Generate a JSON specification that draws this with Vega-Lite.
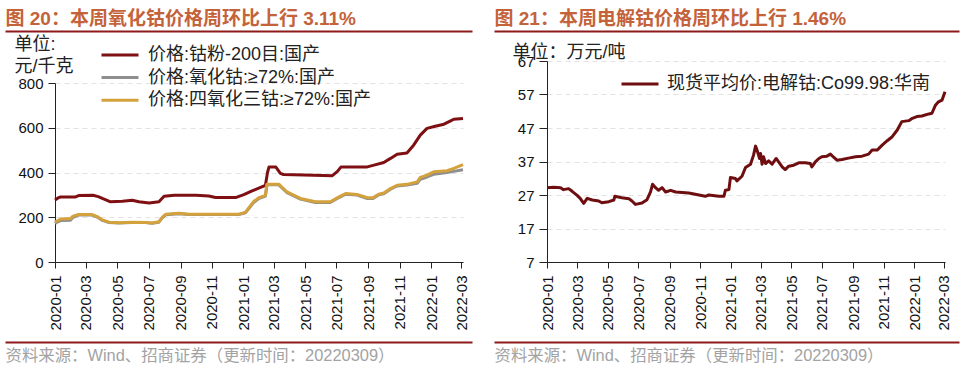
{
  "$schema": "https://vega.github.io/schema/vega-lite/v6.json",
  "background": "white",
  "padding": {"left": 5, "top": 9, "right": 0, "bottom": 0},
  "autosize": {"type": "pad"},
  "spacing": -28,
  "config": {
    "view": {"stroke": null},
    "font": "Liberation Sans, Noto Sans CJK SC",
    "axis": {
      "labelFont": "Liberation Sans, Noto Sans CJK SC",
      "titleFont": "Liberation Sans, Noto Sans CJK SC",
      "labelColor": "#111",
      "domainColor": "#222",
      "tickColor": "#222",
      "labelFontSize": 15
    },
    "legend": {"labelFont": "Liberation Sans, Noto Sans CJK SC"}
  },
  "resolve": {
    "scale": {"x": "independent", "y": "independent", "color": "independent"},
    "legend": {"color": "independent"}
  },
  "datasets": {
    "oxide": [
      {"date": "2020-01-01", "series": "价格:钴粉-200目:国产", "value": 277},
      {"date": "2020-01-06", "series": "价格:钴粉-200目:国产", "value": 285},
      {"date": "2020-01-12", "series": "价格:钴粉-200目:国产", "value": 291},
      {"date": "2020-02-10", "series": "价格:钴粉-200目:国产", "value": 291},
      {"date": "2020-02-16", "series": "价格:钴粉-200目:国产", "value": 297},
      {"date": "2020-03-15", "series": "价格:钴粉-200目:国产", "value": 298},
      {"date": "2020-03-25", "series": "价格:钴粉-200目:国产", "value": 292},
      {"date": "2020-04-02", "series": "价格:钴粉-200目:国产", "value": 284},
      {"date": "2020-04-18", "series": "价格:钴粉-200目:国产", "value": 269},
      {"date": "2020-05-11", "series": "价格:钴粉-200目:国产", "value": 272},
      {"date": "2020-05-30", "series": "价格:钴粉-200目:国产", "value": 276},
      {"date": "2020-06-12", "series": "价格:钴粉-200目:国产", "value": 269},
      {"date": "2020-07-02", "series": "价格:钴粉-200目:国产", "value": 264},
      {"date": "2020-07-21", "series": "价格:钴粉-200目:国产", "value": 269},
      {"date": "2020-07-31", "series": "价格:钴粉-200目:国产", "value": 294},
      {"date": "2020-08-20", "series": "价格:钴粉-200目:国产", "value": 298},
      {"date": "2020-10-01", "series": "价格:钴粉-200目:国产", "value": 298},
      {"date": "2020-10-26", "series": "价格:钴粉-200目:国产", "value": 295},
      {"date": "2020-11-08", "series": "价格:钴粉-200目:国产", "value": 288},
      {"date": "2020-12-17", "series": "价格:钴粉-200目:国产", "value": 288},
      {"date": "2021-01-02", "series": "价格:钴粉-200目:国产", "value": 301},
      {"date": "2021-01-18", "series": "价格:钴粉-200目:国产", "value": 318},
      {"date": "2021-01-31", "series": "价格:钴粉-200目:国产", "value": 330},
      {"date": "2021-02-13", "series": "价格:钴粉-200目:国产", "value": 343},
      {"date": "2021-02-17", "series": "价格:钴粉-200目:国产", "value": 400},
      {"date": "2021-02-20", "series": "价格:钴粉-200目:国产", "value": 425},
      {"date": "2021-03-05", "series": "价格:钴粉-200目:国产", "value": 425},
      {"date": "2021-03-14", "series": "价格:钴粉-200目:国产", "value": 396},
      {"date": "2021-03-20", "series": "价格:钴粉-200目:国产", "value": 391},
      {"date": "2021-05-18", "series": "价格:钴粉-200目:国产", "value": 388},
      {"date": "2021-06-23", "series": "价格:钴粉-200目:国产", "value": 386},
      {"date": "2021-07-03", "series": "价格:钴粉-200目:国产", "value": 405},
      {"date": "2021-07-10", "series": "价格:钴粉-200目:国产", "value": 425},
      {"date": "2021-08-30", "series": "价格:钴粉-200目:国产", "value": 425},
      {"date": "2021-09-12", "series": "价格:钴粉-200目:国产", "value": 433},
      {"date": "2021-10-01", "series": "价格:钴粉-200目:国产", "value": 445},
      {"date": "2021-10-14", "series": "价格:钴粉-200目:国产", "value": 463},
      {"date": "2021-10-27", "series": "价格:钴粉-200目:国产", "value": 482},
      {"date": "2021-11-15", "series": "价格:钴粉-200目:国产", "value": 487},
      {"date": "2021-11-28", "series": "价格:钴粉-200目:国产", "value": 522},
      {"date": "2021-12-11", "series": "价格:钴粉-200目:国产", "value": 567},
      {"date": "2021-12-24", "series": "价格:钴粉-200目:国产", "value": 597},
      {"date": "2022-01-09", "series": "价格:钴粉-200目:国产", "value": 607},
      {"date": "2022-01-26", "series": "价格:钴粉-200目:国产", "value": 616},
      {"date": "2022-02-08", "series": "价格:钴粉-200目:国产", "value": 631},
      {"date": "2022-02-14", "series": "价格:钴粉-200目:国产", "value": 638},
      {"date": "2022-03-04", "series": "价格:钴粉-200目:国产", "value": 641},

      {"date": "2020-01-01", "series": "价格:氧化钴:≥72%:国产", "value": 172},
      {"date": "2020-01-05", "series": "价格:氧化钴:≥72%:国产", "value": 178},
      {"date": "2020-01-12", "series": "价格:氧化钴:≥72%:国产", "value": 185},
      {"date": "2020-01-31", "series": "价格:氧化钴:≥72%:国产", "value": 187},
      {"date": "2020-02-05", "series": "价格:氧化钴:≥72%:国产", "value": 200},
      {"date": "2020-02-16", "series": "价格:氧化钴:≥72%:国产", "value": 210},
      {"date": "2020-03-13", "series": "价格:氧化钴:≥72%:国产", "value": 210},
      {"date": "2020-03-23", "series": "价格:氧化钴:≥72%:国产", "value": 201},
      {"date": "2020-04-02", "series": "价格:氧化钴:≥72%:国产", "value": 186},
      {"date": "2020-04-15", "series": "价格:氧化钴:≥72%:国产", "value": 176},
      {"date": "2020-05-04", "series": "价格:氧化钴:≥72%:国产", "value": 174},
      {"date": "2020-05-30", "series": "价格:氧化钴:≥72%:国产", "value": 177},
      {"date": "2020-06-25", "series": "价格:氧化钴:≥72%:国产", "value": 176},
      {"date": "2020-07-08", "series": "价格:氧化钴:≥72%:国产", "value": 173},
      {"date": "2020-07-21", "series": "价格:氧化钴:≥72%:国产", "value": 178},
      {"date": "2020-07-27", "series": "价格:氧化钴:≥72%:国产", "value": 196},
      {"date": "2020-08-03", "series": "价格:氧化钴:≥72%:国产", "value": 211},
      {"date": "2020-08-29", "series": "价格:氧化钴:≥72%:国产", "value": 216},
      {"date": "2020-09-17", "series": "价格:氧化钴:≥72%:国产", "value": 212},
      {"date": "2020-12-23", "series": "价格:氧化钴:≥72%:国产", "value": 212},
      {"date": "2021-01-05", "series": "价格:氧化钴:≥72%:国产", "value": 220},
      {"date": "2021-01-21", "series": "价格:氧化钴:≥72%:国产", "value": 266},
      {"date": "2021-02-01", "series": "价格:氧化钴:≥72%:国产", "value": 285},
      {"date": "2021-02-13", "series": "价格:氧化钴:≥72%:国产", "value": 295},
      {"date": "2021-02-16", "series": "价格:氧化钴:≥72%:国产", "value": 345},
      {"date": "2021-03-11", "series": "价格:氧化钴:≥72%:国产", "value": 345},
      {"date": "2021-03-27", "series": "价格:氧化钴:≥72%:国产", "value": 310},
      {"date": "2021-04-22", "series": "价格:氧化钴:≥72%:国产", "value": 281},
      {"date": "2021-05-21", "series": "价格:氧化钴:≥72%:国产", "value": 266},
      {"date": "2021-06-19", "series": "价格:氧化钴:≥72%:国产", "value": 266},
      {"date": "2021-07-06", "series": "价格:氧化钴:≥72%:国产", "value": 288},
      {"date": "2021-07-19", "series": "价格:氧化钴:≥72%:国产", "value": 303},
      {"date": "2021-08-10", "series": "价格:氧化钴:≥72%:国产", "value": 299},
      {"date": "2021-08-30", "series": "价格:氧化钴:≥72%:国产", "value": 284},
      {"date": "2021-09-10", "series": "价格:氧化钴:≥72%:国产", "value": 284},
      {"date": "2021-09-21", "series": "价格:氧化钴:≥72%:国产", "value": 300},
      {"date": "2021-10-01", "series": "价格:氧化钴:≥72%:国产", "value": 305},
      {"date": "2021-10-14", "series": "价格:氧化钴:≥72%:国产", "value": 325},
      {"date": "2021-10-27", "series": "价格:氧化钴:≥72%:国产", "value": 340},
      {"date": "2021-11-15", "series": "价格:氧化钴:≥72%:国产", "value": 344},
      {"date": "2021-12-05", "series": "价格:氧化钴:≥72%:国产", "value": 352},
      {"date": "2021-12-11", "series": "价格:氧化钴:≥72%:国产", "value": 370},
      {"date": "2021-12-24", "series": "价格:氧化钴:≥72%:国产", "value": 380},
      {"date": "2022-01-06", "series": "价格:氧化钴:≥72%:国产", "value": 392},
      {"date": "2022-02-01", "series": "价格:氧化钴:≥72%:国产", "value": 400},
      {"date": "2022-02-14", "series": "价格:氧化钴:≥72%:国产", "value": 405},
      {"date": "2022-03-04", "series": "价格:氧化钴:≥72%:国产", "value": 412},

      {"date": "2020-01-01", "series": "价格:四氧化三钴:≥72%:国产", "value": 178},
      {"date": "2020-01-05", "series": "价格:四氧化三钴:≥72%:国产", "value": 183},
      {"date": "2020-01-12", "series": "价格:四氧化三钴:≥72%:国产", "value": 192},
      {"date": "2020-01-31", "series": "价格:四氧化三钴:≥72%:国产", "value": 194},
      {"date": "2020-02-05", "series": "价格:四氧化三钴:≥72%:国产", "value": 205},
      {"date": "2020-02-16", "series": "价格:四氧化三钴:≥72%:国产", "value": 212},
      {"date": "2020-03-13", "series": "价格:四氧化三钴:≥72%:国产", "value": 212},
      {"date": "2020-03-23", "series": "价格:四氧化三钴:≥72%:国产", "value": 203},
      {"date": "2020-04-02", "series": "价格:四氧化三钴:≥72%:国产", "value": 188},
      {"date": "2020-04-15", "series": "价格:四氧化三钴:≥72%:国产", "value": 178},
      {"date": "2020-05-04", "series": "价格:四氧化三钴:≥72%:国产", "value": 175},
      {"date": "2020-05-30", "series": "价格:四氧化三钴:≥72%:国产", "value": 178},
      {"date": "2020-06-25", "series": "价格:四氧化三钴:≥72%:国产", "value": 177},
      {"date": "2020-07-08", "series": "价格:四氧化三钴:≥72%:国产", "value": 174},
      {"date": "2020-07-21", "series": "价格:四氧化三钴:≥72%:国产", "value": 180},
      {"date": "2020-07-27", "series": "价格:四氧化三钴:≥72%:国产", "value": 198},
      {"date": "2020-08-03", "series": "价格:四氧化三钴:≥72%:国产", "value": 213},
      {"date": "2020-08-29", "series": "价格:四氧化三钴:≥72%:国产", "value": 218},
      {"date": "2020-09-17", "series": "价格:四氧化三钴:≥72%:国产", "value": 213},
      {"date": "2020-12-23", "series": "价格:四氧化三钴:≥72%:国产", "value": 213},
      {"date": "2021-01-05", "series": "价格:四氧化三钴:≥72%:国产", "value": 222},
      {"date": "2021-01-21", "series": "价格:四氧化三钴:≥72%:国产", "value": 270},
      {"date": "2021-02-01", "series": "价格:四氧化三钴:≥72%:国产", "value": 288},
      {"date": "2021-02-13", "series": "价格:四氧化三钴:≥72%:国产", "value": 298},
      {"date": "2021-02-16", "series": "价格:四氧化三钴:≥72%:国产", "value": 348},
      {"date": "2021-03-11", "series": "价格:四氧化三钴:≥72%:国产", "value": 348},
      {"date": "2021-03-27", "series": "价格:四氧化三钴:≥72%:国产", "value": 313},
      {"date": "2021-04-22", "series": "价格:四氧化三钴:≥72%:国产", "value": 284},
      {"date": "2021-05-21", "series": "价格:四氧化三钴:≥72%:国产", "value": 269},
      {"date": "2021-06-19", "series": "价格:四氧化三钴:≥72%:国产", "value": 269},
      {"date": "2021-07-06", "series": "价格:四氧化三钴:≥72%:国产", "value": 291},
      {"date": "2021-07-19", "series": "价格:四氧化三钴:≥72%:国产", "value": 306},
      {"date": "2021-08-10", "series": "价格:四氧化三钴:≥72%:国产", "value": 302},
      {"date": "2021-08-30", "series": "价格:四氧化三钴:≥72%:国产", "value": 287},
      {"date": "2021-09-10", "series": "价格:四氧化三钴:≥72%:国产", "value": 287},
      {"date": "2021-09-21", "series": "价格:四氧化三钴:≥72%:国产", "value": 303},
      {"date": "2021-10-01", "series": "价格:四氧化三钴:≥72%:国产", "value": 308},
      {"date": "2021-10-14", "series": "价格:四氧化三钴:≥72%:国产", "value": 328},
      {"date": "2021-10-27", "series": "价格:四氧化三钴:≥72%:国产", "value": 343},
      {"date": "2021-11-15", "series": "价格:四氧化三钴:≥72%:国产", "value": 347},
      {"date": "2021-12-05", "series": "价格:四氧化三钴:≥72%:国产", "value": 358},
      {"date": "2021-12-11", "series": "价格:四氧化三钴:≥72%:国产", "value": 378},
      {"date": "2021-12-24", "series": "价格:四氧化三钴:≥72%:国产", "value": 388},
      {"date": "2022-01-06", "series": "价格:四氧化三钴:≥72%:国产", "value": 403},
      {"date": "2022-02-01", "series": "价格:四氧化三钴:≥72%:国产", "value": 408},
      {"date": "2022-02-14", "series": "价格:四氧化三钴:≥72%:国产", "value": 418},
      {"date": "2022-03-04", "series": "价格:四氧化三钴:≥72%:国产", "value": 435}
    ],
    "elec": [
      {"date": "2020-01-01", "series": "现货平均价:电解钴:Co99.98:华南", "value": 29.2},
      {"date": "2020-01-14", "series": "现货平均价:电解钴:Co99.98:华南", "value": 29.3},
      {"date": "2020-01-28", "series": "现货平均价:电解钴:Co99.98:华南", "value": 29.2},
      {"date": "2020-02-03", "series": "现货平均价:电解钴:Co99.98:华南", "value": 28.6},
      {"date": "2020-02-13", "series": "现货平均价:电解钴:Co99.98:华南", "value": 28.9},
      {"date": "2020-02-20", "series": "现货平均价:电解钴:Co99.98:华南", "value": 28.1},
      {"date": "2020-03-01", "series": "现货平均价:电解钴:Co99.98:华南", "value": 26.9},
      {"date": "2020-03-07", "series": "现货平均价:电解钴:Co99.98:华南", "value": 26.0},
      {"date": "2020-03-14", "series": "现货平均价:电解钴:Co99.98:华南", "value": 24.5},
      {"date": "2020-03-21", "series": "现货平均价:电解钴:Co99.98:华南", "value": 26.0},
      {"date": "2020-03-31", "series": "现货平均价:电解钴:Co99.98:华南", "value": 25.5},
      {"date": "2020-04-13", "series": "现货平均价:电解钴:Co99.98:华南", "value": 25.2},
      {"date": "2020-04-19", "series": "现货平均价:电解钴:Co99.98:华南", "value": 24.7},
      {"date": "2020-05-03", "series": "现货平均价:电解钴:Co99.98:华南", "value": 25.0},
      {"date": "2020-05-13", "series": "现货平均价:电解钴:Co99.98:华南", "value": 25.5},
      {"date": "2020-05-15", "series": "现货平均价:电解钴:Co99.98:华南", "value": 26.6},
      {"date": "2020-05-29", "series": "现货平均价:电解钴:Co99.98:华南", "value": 26.2},
      {"date": "2020-06-12", "series": "现货平均价:电解钴:Co99.98:华南", "value": 25.9},
      {"date": "2020-06-18", "series": "现货平均价:电解钴:Co99.98:华南", "value": 25.2},
      {"date": "2020-06-25", "series": "现货平均价:电解钴:Co99.98:华南", "value": 24.2},
      {"date": "2020-07-08", "series": "现货平均价:电解钴:Co99.98:华南", "value": 24.6},
      {"date": "2020-07-18", "series": "现货平均价:电解钴:Co99.98:华南", "value": 25.6},
      {"date": "2020-07-25", "series": "现货平均价:电解钴:Co99.98:华南", "value": 27.9},
      {"date": "2020-07-29", "series": "现货平均价:电解钴:Co99.98:华南", "value": 30.2},
      {"date": "2020-08-04", "series": "现货平均价:电解钴:Co99.98:华南", "value": 29.2},
      {"date": "2020-08-10", "series": "现货平均价:电解钴:Co99.98:华南", "value": 28.4},
      {"date": "2020-08-17", "series": "现货平均价:电解钴:Co99.98:华南", "value": 29.2},
      {"date": "2020-08-24", "series": "现货平均价:电解钴:Co99.98:华南", "value": 27.9},
      {"date": "2020-09-03", "series": "现货平均价:电解钴:Co99.98:华南", "value": 28.4},
      {"date": "2020-09-13", "series": "现货平均价:电解钴:Co99.98:华南", "value": 27.9},
      {"date": "2020-10-09", "series": "现货平均价:电解钴:Co99.98:华南", "value": 27.6},
      {"date": "2020-10-22", "series": "现货平均价:电解钴:Co99.98:华南", "value": 27.2},
      {"date": "2020-11-11", "series": "现货平均价:电解钴:Co99.98:华南", "value": 26.6},
      {"date": "2020-11-18", "series": "现货平均价:电解钴:Co99.98:华南", "value": 27.0},
      {"date": "2020-12-08", "series": "现货平均价:电解钴:Co99.98:华南", "value": 26.6},
      {"date": "2020-12-18", "series": "现货平均价:电解钴:Co99.98:华南", "value": 26.6},
      {"date": "2020-12-21", "series": "现货平均价:电解钴:Co99.98:华南", "value": 28.4},
      {"date": "2020-12-28", "series": "现货平均价:电解钴:Co99.98:华南", "value": 28.6},
      {"date": "2020-12-31", "series": "现货平均价:电解钴:Co99.98:华南", "value": 32.2},
      {"date": "2021-01-10", "series": "现货平均价:电解钴:Co99.98:华南", "value": 31.9},
      {"date": "2021-01-13", "series": "现货平均价:电解钴:Co99.98:华南", "value": 31.2},
      {"date": "2021-01-23", "series": "现货平均价:电解钴:Co99.98:华南", "value": 32.6},
      {"date": "2021-01-30", "series": "现货平均价:电解钴:Co99.98:华南", "value": 35.2},
      {"date": "2021-02-09", "series": "现货平均价:电解钴:Co99.98:华南", "value": 36.2},
      {"date": "2021-02-15", "series": "现货平均价:电解钴:Co99.98:华南", "value": 38.9},
      {"date": "2021-02-19", "series": "现货平均价:电解钴:Co99.98:华南", "value": 41.6},
      {"date": "2021-02-22", "series": "现货平均价:电解钴:Co99.98:华南", "value": 40.4},
      {"date": "2021-02-27", "series": "现货平均价:电解钴:Co99.98:华南", "value": 37.9},
      {"date": "2021-03-01", "series": "现货平均价:电解钴:Co99.98:华南", "value": 39.4},
      {"date": "2021-03-04", "series": "现货平均价:电解钴:Co99.98:华南", "value": 36.2},
      {"date": "2021-03-07", "series": "现货平均价:电解钴:Co99.98:华南", "value": 38.4},
      {"date": "2021-03-11", "series": "现货平均价:电解钴:Co99.98:华南", "value": 36.4},
      {"date": "2021-03-17", "series": "现货平均价:电解钴:Co99.98:华南", "value": 37.2},
      {"date": "2021-03-24", "series": "现货平均价:电解钴:Co99.98:华南", "value": 36.2},
      {"date": "2021-04-01", "series": "现货平均价:电解钴:Co99.98:华南", "value": 37.9},
      {"date": "2021-04-13", "series": "现货平均价:电解钴:Co99.98:华南", "value": 35.4},
      {"date": "2021-04-19", "series": "现货平均价:电解钴:Co99.98:华南", "value": 34.6},
      {"date": "2021-04-26", "series": "现货平均价:电解钴:Co99.98:华南", "value": 35.6},
      {"date": "2021-05-06", "series": "现货平均价:电解钴:Co99.98:华南", "value": 35.9},
      {"date": "2021-05-16", "series": "现货平均价:电解钴:Co99.98:华南", "value": 36.6},
      {"date": "2021-05-29", "series": "现货平均价:电解钴:Co99.98:华南", "value": 36.6},
      {"date": "2021-06-08", "series": "现货平均价:电解钴:Co99.98:华南", "value": 36.4},
      {"date": "2021-06-11", "series": "现货平均价:电解钴:Co99.98:华南", "value": 35.4},
      {"date": "2021-06-18", "series": "现货平均价:电解钴:Co99.98:华南", "value": 36.9},
      {"date": "2021-06-25", "series": "现货平均价:电解钴:Co99.98:华南", "value": 37.9},
      {"date": "2021-07-01", "series": "现货平均价:电解钴:Co99.98:华南", "value": 38.4},
      {"date": "2021-07-11", "series": "现货平均价:电解钴:Co99.98:华南", "value": 38.6},
      {"date": "2021-07-18", "series": "现货平均价:电解钴:Co99.98:华南", "value": 39.2},
      {"date": "2021-07-25", "series": "现货平均价:电解钴:Co99.98:华南", "value": 38.2},
      {"date": "2021-07-31", "series": "现货平均价:电解钴:Co99.98:华南", "value": 37.4},
      {"date": "2021-08-10", "series": "现货平均价:电解钴:Co99.98:华南", "value": 37.6},
      {"date": "2021-08-23", "series": "现货平均价:电解钴:Co99.98:华南", "value": 38.0},
      {"date": "2021-09-06", "series": "现货平均价:电解钴:Co99.98:华南", "value": 38.4},
      {"date": "2021-09-19", "series": "现货平均价:电解钴:Co99.98:华南", "value": 38.6},
      {"date": "2021-10-02", "series": "现货平均价:电解钴:Co99.98:华南", "value": 39.2},
      {"date": "2021-10-09", "series": "现货平均价:电解钴:Co99.98:华南", "value": 40.4},
      {"date": "2021-10-19", "series": "现货平均价:电解钴:Co99.98:华南", "value": 40.4},
      {"date": "2021-10-29", "series": "现货平均价:电解钴:Co99.98:华南", "value": 41.9},
      {"date": "2021-11-08", "series": "现货平均价:电解钴:Co99.98:华南", "value": 43.2},
      {"date": "2021-11-18", "series": "现货平均价:电解钴:Co99.98:华南", "value": 44.4},
      {"date": "2021-11-28", "series": "现货平均价:电解钴:Co99.98:华南", "value": 46.4},
      {"date": "2021-12-07", "series": "现货平均价:电解钴:Co99.98:华南", "value": 48.9},
      {"date": "2021-12-21", "series": "现货平均价:电解钴:Co99.98:华南", "value": 49.2},
      {"date": "2021-12-28", "series": "现货平均价:电解钴:Co99.98:华南", "value": 49.9},
      {"date": "2022-01-06", "series": "现货平均价:电解钴:Co99.98:华南", "value": 50.4},
      {"date": "2022-01-16", "series": "现货平均价:电解钴:Co99.98:华南", "value": 50.6},
      {"date": "2022-01-30", "series": "现货平均价:电解钴:Co99.98:华南", "value": 51.2},
      {"date": "2022-02-05", "series": "现货平均价:电解钴:Co99.98:华南", "value": 51.4},
      {"date": "2022-02-12", "series": "现货平均价:电解钴:Co99.98:华南", "value": 53.8},
      {"date": "2022-02-18", "series": "现货平均价:电解钴:Co99.98:华南", "value": 54.8},
      {"date": "2022-02-25", "series": "现货平均价:电解钴:Co99.98:华南", "value": 55.3},
      {"date": "2022-03-03", "series": "现货平均价:电解钴:Co99.98:华南", "value": 57.8}
    ],
    "ruleL": [{"v": 0}, {"v": 1}],
    "ruleR": [{"v": 0}, {"v": 1}]
  },
  "hconcat": [
    {
      "width": 408,
      "height": 201,
      "resolve": {"scale": {"x": "independent"}, "axis": {"x": "independent"}},
      "layer": [
        {
          "data": {"name": "oxide"},
          "mark": {"type": "line", "strokeWidth": 3, "strokeJoin": "round"},
          "encoding": {
            "x": {
              "field": "date", "type": "temporal",
              "scale": {"type": "utc", "domain": [{"year": 2020, "month": 1, "date": 1, "utc": true}, {"year": 2022, "month": 3, "date": 4, "utc": true}]},
              "axis": {
                "orient": "bottom", "title": null, "grid": false, "format": "%Y-%m", "labelAngle": 270,
                "labelAlign": "right", "labelBaseline": "middle", "labelFlush": false, "labelOverlap": false,
                "tickSize": 6, "labelPadding": 7, "labelFontSize": 15,
                "values": [
                  {"year": 2020, "month": 1, "date": 1, "utc": true}, {"year": 2020, "month": 3, "date": 1, "utc": true},
                  {"year": 2020, "month": 5, "date": 1, "utc": true}, {"year": 2020, "month": 7, "date": 1, "utc": true},
                  {"year": 2020, "month": 9, "date": 1, "utc": true}, {"year": 2020, "month": 11, "date": 1, "utc": true},
                  {"year": 2021, "month": 1, "date": 1, "utc": true}, {"year": 2021, "month": 3, "date": 1, "utc": true},
                  {"year": 2021, "month": 5, "date": 1, "utc": true}, {"year": 2021, "month": 7, "date": 1, "utc": true},
                  {"year": 2021, "month": 9, "date": 1, "utc": true}, {"year": 2021, "month": 11, "date": 1, "utc": true},
                  {"year": 2022, "month": 1, "date": 1, "utc": true}, {"year": 2022, "month": 3, "date": 1, "utc": true}
                ]
              }
            },
            "y": {
              "field": "value", "type": "quantitative",
              "scale": {"domain": [0, 800], "range": [201, 22], "nice": false},
              "axis": {
                "orient": "left", "values": [0, 200, 400, 600, 800], "tickSize": 7, "labelPadding": 5,
                "grid": true, "gridDash": [5, 4], "gridColor": "#e3e3e3",
                "title": ["单位:", "元/千克"], "titleAngle": 0, "titleAlign": "left", "titleBaseline": "alphabetic",
                "titleX": -41, "titleY": -12, "titleFontSize": 18, "titleFontWeight": "normal", "titleColor": "#222", "titleLineHeight": 22
              }
            },
            "color": {
              "field": "series", "type": "nominal",
              "scale": {"domain": ["价格:钴粉-200目:国产", "价格:氧化钴:≥72%:国产", "价格:四氧化三钴:≥72%:国产"], "range": ["#7E1014", "#8E8E8E", "#D4A23C"]},
              "legend": {
                "orient": "none", "legendX": 54, "legendY": -17, "title": null, "padding": 0,
                "symbolType": "M-2,0H2", "symbolSize": 342, "symbolStrokeWidth": 3,
                "labelFontSize": 18, "labelColor": "#222", "rowPadding": 2.6, "labelOffset": 17, "labelLimit": 400
              }
            }
          }
        },
        {
          "data": {"name": "ruleL"},
          "mark": {"type": "point", "opacity": 0, "size": 0},
          "encoding": {
            "x": {
              "field": "v", "type": "quantitative",
              "scale": {"domain": [0, 1], "range": [-50, 417], "nice": false, "zero": false},
              "axis": {
                "orient": "top", "offset": 30, "domain": true, "domainColor": "#8E1B1B", "domainWidth": 2,
                "ticks": false, "labels": false, "grid": false,
                "title": "图 20：本周氧化钴价格周环比上行 3.11%", "titleAnchor": "start", "titleAlign": "left",
                "titleColor": "#C4623A", "titleFontSize": 19, "titleFontWeight": "bold", "titlePadding": 3
              }
            }
          }
        },
        {
          "data": {"name": "ruleL"},
          "mark": {"type": "point", "opacity": 0, "size": 0},
          "encoding": {
            "x": {
              "field": "v", "type": "quantitative",
              "scale": {"domain": [0, 1], "range": [-50, 417], "nice": false, "zero": false},
              "axis": {
                "orient": "bottom", "offset": 80, "domain": true, "domainColor": "#8E1B1B", "domainWidth": 2,
                "ticks": false, "labels": false, "grid": false,
                "title": "资料来源：Wind、招商证券（更新时间：20220309）", "titleAnchor": "start", "titleAlign": "left",
                "titleColor": "#A3A3A3", "titleFontSize": 16.4, "titleFontWeight": "normal", "titlePadding": 5
              }
            }
          }
        }
      ]
    },
    {
      "width": 398,
      "height": 201,
      "resolve": {"scale": {"x": "independent"}, "axis": {"x": "independent"}},
      "layer": [
        {
          "data": {"name": "elec"},
          "mark": {"type": "line", "strokeWidth": 3, "strokeJoin": "round"},
          "encoding": {
            "x": {
              "field": "date", "type": "temporal",
              "scale": {"type": "utc", "domain": [{"year": 2020, "month": 1, "date": 1, "utc": true}, {"year": 2022, "month": 3, "date": 3, "utc": true}]},
              "axis": {
                "orient": "bottom", "title": null, "grid": false, "format": "%Y-%m", "labelAngle": 270,
                "labelAlign": "right", "labelBaseline": "middle", "labelFlush": false, "labelOverlap": false,
                "tickSize": 6, "labelPadding": 7, "labelFontSize": 15,
                "values": [
                  {"year": 2020, "month": 1, "date": 1, "utc": true}, {"year": 2020, "month": 3, "date": 1, "utc": true},
                  {"year": 2020, "month": 5, "date": 1, "utc": true}, {"year": 2020, "month": 7, "date": 1, "utc": true},
                  {"year": 2020, "month": 9, "date": 1, "utc": true}, {"year": 2020, "month": 11, "date": 1, "utc": true},
                  {"year": 2021, "month": 1, "date": 1, "utc": true}, {"year": 2021, "month": 3, "date": 1, "utc": true},
                  {"year": 2021, "month": 5, "date": 1, "utc": true}, {"year": 2021, "month": 7, "date": 1, "utc": true},
                  {"year": 2021, "month": 9, "date": 1, "utc": true}, {"year": 2021, "month": 11, "date": 1, "utc": true},
                  {"year": 2022, "month": 1, "date": 1, "utc": true}, {"year": 2022, "month": 3, "date": 1, "utc": true}
                ]
              }
            },
            "y": {
              "field": "value", "type": "quantitative",
              "scale": {"domain": [7, 67], "nice": false, "zero": false},
              "axis": {
                "orient": "left", "values": [7, 17, 27, 37, 47, 57, 67], "tickSize": 8, "labelPadding": 5,
                "grid": true, "gridDash": [5, 4], "gridColor": "#e3e3e3",
                "title": "单位：万元/吨", "titleAngle": 0, "titleAlign": "left", "titleBaseline": "alphabetic",
                "titleX": -35, "titleY": -4, "titleFontSize": 18, "titleFontWeight": "normal", "titleColor": "#222"
              }
            },
            "color": {
              "field": "series", "type": "nominal",
              "scale": {"range": ["#6E0E10"]},
              "legend": {
                "orient": "none", "legendX": 82, "legendY": 12, "title": null, "padding": 0,
                "symbolType": "M-2,0H2", "symbolSize": 342, "symbolStrokeWidth": 3,
                "labelFontSize": 18, "labelColor": "#222", "labelOffset": 16, "labelLimit": 400
              }
            }
          }
        },
        {
          "data": {"name": "ruleR"},
          "mark": {"type": "point", "opacity": 0, "size": 0},
          "encoding": {
            "x": {
              "field": "v", "type": "quantitative",
              "scale": {"domain": [0, 1], "range": [-53, 412], "nice": false, "zero": false},
              "axis": {
                "orient": "top", "offset": 30, "domain": true, "domainColor": "#8E1B1B", "domainWidth": 2,
                "ticks": false, "labels": false, "grid": false,
                "title": "图 21：本周电解钴价格周环比上行 1.46%", "titleAnchor": "start", "titleAlign": "left",
                "titleColor": "#C4623A", "titleFontSize": 19, "titleFontWeight": "bold", "titlePadding": 3
              }
            }
          }
        },
        {
          "data": {"name": "ruleR"},
          "mark": {"type": "point", "opacity": 0, "size": 0},
          "encoding": {
            "x": {
              "field": "v", "type": "quantitative",
              "scale": {"domain": [0, 1], "range": [-53, 412], "nice": false, "zero": false},
              "axis": {
                "orient": "bottom", "offset": 80, "domain": true, "domainColor": "#8E1B1B", "domainWidth": 2,
                "ticks": false, "labels": false, "grid": false,
                "title": "资料来源：Wind、招商证券（更新时间：20220309）", "titleAnchor": "start", "titleAlign": "left",
                "titleColor": "#A3A3A3", "titleFontSize": 16.4, "titleFontWeight": "normal", "titlePadding": 5
              }
            }
          }
        }
      ]
    }
  ]
}
